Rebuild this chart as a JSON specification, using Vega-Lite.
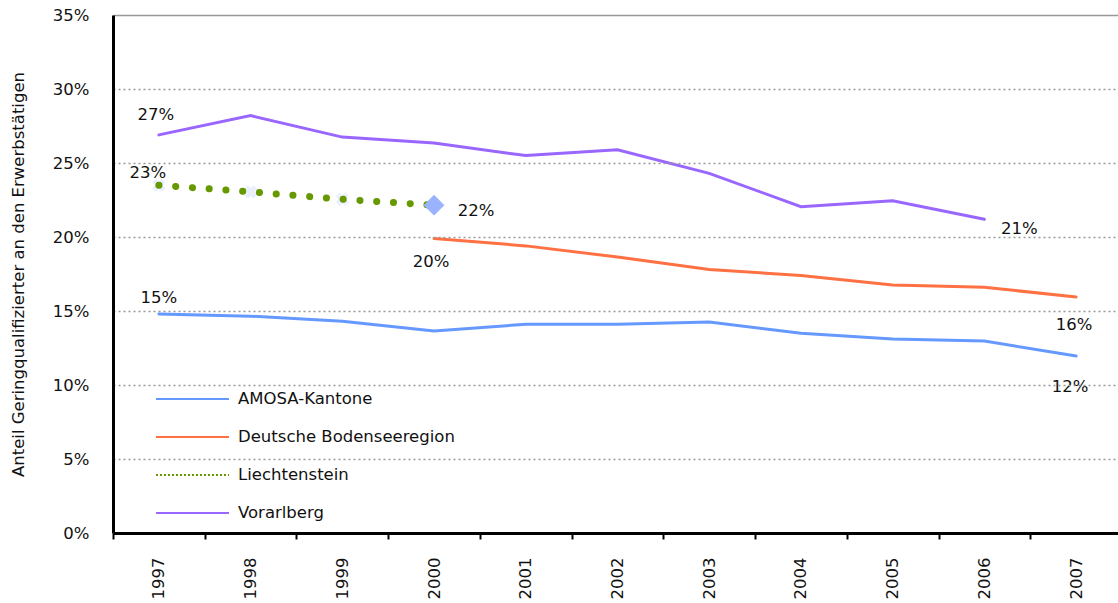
{
  "$schema": "https://vega.github.io/schema/vega-lite/v6.json",
  "width": 1009,
  "height": 518,
  "autosize": "none",
  "padding": {"left": 113, "top": 15, "right": 0, "bottom": 70},
  "background": "white",
  "config": {
    "font": "DejaVu Sans",
    "view": {"stroke": null},
    "text": {"font": "DejaVu Sans", "fontSize": 16.5, "color": "#111"}
  },
  "data": {
    "values": [
      {"series": "AMOSA-Kantone", "year": "1997", "value": 0.148},
      {"series": "AMOSA-Kantone", "year": "1998", "value": 0.1465},
      {"series": "AMOSA-Kantone", "year": "1999", "value": 0.143},
      {"series": "AMOSA-Kantone", "year": "2000", "value": 0.1365},
      {"series": "AMOSA-Kantone", "year": "2001", "value": 0.141},
      {"series": "AMOSA-Kantone", "year": "2002", "value": 0.141},
      {"series": "AMOSA-Kantone", "year": "2003", "value": 0.1425},
      {"series": "AMOSA-Kantone", "year": "2004", "value": 0.135},
      {"series": "AMOSA-Kantone", "year": "2005", "value": 0.131},
      {"series": "AMOSA-Kantone", "year": "2006", "value": 0.1297},
      {"series": "AMOSA-Kantone", "year": "2007", "value": 0.1196},
      {"series": "Deutsche Bodenseeregion", "year": "2000", "value": 0.199},
      {"series": "Deutsche Bodenseeregion", "year": "2001", "value": 0.194},
      {"series": "Deutsche Bodenseeregion", "year": "2002", "value": 0.1865},
      {"series": "Deutsche Bodenseeregion", "year": "2003", "value": 0.178},
      {"series": "Deutsche Bodenseeregion", "year": "2004", "value": 0.174},
      {"series": "Deutsche Bodenseeregion", "year": "2005", "value": 0.1675},
      {"series": "Deutsche Bodenseeregion", "year": "2006", "value": 0.166},
      {"series": "Deutsche Bodenseeregion", "year": "2007", "value": 0.1595},
      {"series": "Liechtenstein", "year": "1997", "value": 0.235},
      {"series": "Liechtenstein", "year": "1998", "value": 0.2305},
      {"series": "Liechtenstein", "year": "1999", "value": 0.2255},
      {"series": "Liechtenstein", "year": "2000", "value": 0.2215},
      {"series": "Vorarlberg", "year": "1997", "value": 0.269},
      {"series": "Vorarlberg", "year": "1998", "value": 0.282},
      {"series": "Vorarlberg", "year": "1999", "value": 0.2675},
      {"series": "Vorarlberg", "year": "2000", "value": 0.2635},
      {"series": "Vorarlberg", "year": "2001", "value": 0.255},
      {"series": "Vorarlberg", "year": "2002", "value": 0.259},
      {"series": "Vorarlberg", "year": "2003", "value": 0.243},
      {"series": "Vorarlberg", "year": "2004", "value": 0.2205},
      {"series": "Vorarlberg", "year": "2005", "value": 0.2245},
      {"series": "Vorarlberg", "year": "2006", "value": 0.212}
    ]
  },
  "encoding": {
    "x": {
      "field": "year", "type": "ordinal",
      "scale": {"type": "band", "paddingInner": 0, "paddingOuter": 0},
      "axis": {
        "title": null, "labelAngle": -90, "labelAlign": "right", "labelBaseline": "middle",
        "labelFontSize": 16.5, "labelColor": "#111", "labelPadding": 18,
        "tickBand": "extent", "tickSize": 6, "tickWidth": 2, "tickColor": "#000",
        "domainColor": "#000", "domainWidth": 3, "grid": false, "zindex": 1
      }
    },
    "y": {
      "field": "value", "type": "quantitative",
      "scale": {"domain": [0, 0.35], "nice": false},
      "axis": {
        "title": "Anteil Geringqualifizierter  an den Erwerbstätigen",
        "titleFontSize": 16.5, "titleFontWeight": "normal", "titleColor": "#111", "titlePadding": 26,
        "format": ".0%", "values": [0, 0.05, 0.1, 0.15, 0.2, 0.25, 0.3, 0.35],
        "labelFontSize": 16.5, "labelColor": "#111", "labelPadding": 24,
        "ticks": false, "domainColor": "#000", "domainWidth": 3,
        "grid": true, "gridColor": "#999", "gridWidth": 1.5,
        "gridDash": {"condition": {"test": "datum.value === 0.35", "value": []}, "value": [2, 3]},
        "zindex": 1
      }
    }
  },
  "layer": [
    {
      "transform": [{"filter": "datum.series === 'Liechtenstein' && datum.year !== '2000'"}],
      "mark": {"type": "point", "shape": "cross", "angle": 45, "size": 180, "filled": true, "color": "#D8E0FF", "opacity": 0.5}
    },
    {
      "transform": [{"filter": "datum.series !== 'Liechtenstein'"}],
      "mark": {"type": "line", "strokeWidth": 3, "strokeCap": "round"},
      "encoding": {
        "color": {
          "field": "series", "type": "nominal",
          "scale": {
            "domain": ["AMOSA-Kantone", "Deutsche Bodenseeregion", "Liechtenstein", "Vorarlberg"],
            "range": ["#6699FF", "#FF7043", "#669900", "#9966FF"]
          },
          "legend": {
            "title": null, "orient": "none", "legendX": 42, "legendY": 374,
            "padding": 0, "symbolType": "stroke", "symbolSize": 5329, "symbolStrokeWidth": 2,
            "clipHeight": 20, "rowPadding": 18, "labelOffset": 8,
            "labelFontSize": 16.5, "labelColor": "#111", "labelLimit": 400,
            "encode": {
              "symbols": {
                "update": {
                  "strokeDash": [{"test": "datum.value === 'Liechtenstein'", "value": [2, 2]}, {"value": [1, 0]}],
                  "strokeWidth": {"value": 2}
                }
              }
            }
          }
        }
      }
    },
    {
      "transform": [{"filter": "datum.series === 'Liechtenstein'"}],
      "mark": {"type": "line", "strokeWidth": 7, "strokeCap": "round", "strokeDash": [0.1, 16.7]},
      "encoding": {
        "color": {"field": "series", "type": "nominal"}
      }
    },
    {
      "transform": [{"filter": "datum.series === 'Liechtenstein' && datum.year === '2000'"}],
      "mark": {"type": "point", "shape": "diamond", "size": 430, "filled": true, "opacity": 1, "color": "#99B3FF"}
    },
    {
      "transform": [{"filter": "datum.series === 'Vorarlberg' && datum.year === '1997'"}],
      "mark": {"type": "text", "dx": -3, "dy": -20},
      "encoding": {"text": {"value": "27%"}}
    },
    {
      "transform": [{"filter": "datum.series === 'Liechtenstein' && datum.year === '1997'"}],
      "mark": {"type": "text", "dx": -11, "dy": -12},
      "encoding": {"text": {"value": "23%"}}
    },
    {
      "transform": [{"filter": "datum.series === 'AMOSA-Kantone' && datum.year === '1997'"}],
      "mark": {"type": "text", "dx": 0, "dy": -16},
      "encoding": {"text": {"value": "15%"}}
    },
    {
      "transform": [{"filter": "datum.series === 'Liechtenstein' && datum.year === '2000'"}],
      "mark": {"type": "text", "dx": 42, "dy": 6},
      "encoding": {"text": {"value": "22%"}}
    },
    {
      "transform": [{"filter": "datum.series === 'Deutsche Bodenseeregion' && datum.year === '2000'"}],
      "mark": {"type": "text", "dx": -3, "dy": 24},
      "encoding": {"text": {"value": "20%"}}
    },
    {
      "transform": [{"filter": "datum.series === 'Vorarlberg' && datum.year === '2006'"}],
      "mark": {"type": "text", "dx": 35, "dy": 10},
      "encoding": {"text": {"value": "21%"}}
    },
    {
      "transform": [{"filter": "datum.series === 'Deutsche Bodenseeregion' && datum.year === '2007'"}],
      "mark": {"type": "text", "dx": -2, "dy": 28},
      "encoding": {"text": {"value": "16%"}}
    },
    {
      "transform": [{"filter": "datum.series === 'AMOSA-Kantone' && datum.year === '2007'"}],
      "mark": {"type": "text", "dx": -6, "dy": 31},
      "encoding": {"text": {"value": "12%"}}
    }
  ]
}
